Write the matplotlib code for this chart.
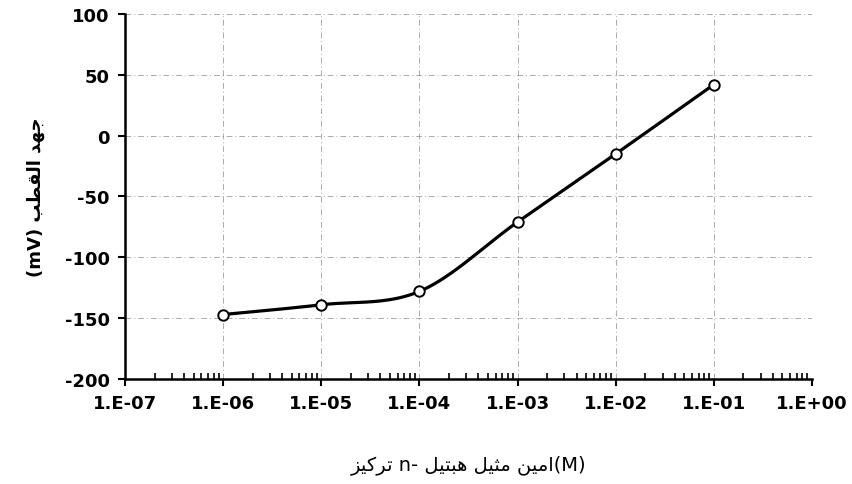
import numpy as np
import matplotlib
matplotlib.use('Agg')
import matplotlib.pyplot as plt
from matplotlib.ticker import FixedLocator, LogLocator, NullFormatter

# data
concentration = [1e-6, 1e-5, 1e-4, 1e-3, 1e-2, 1e-1]
potential = [-147, -139, -128, -71, -15, 42]
x_ticks = [1e-7, 1e-6, 1e-5, 1e-4, 1e-3, 1e-2, 1e-1, 1e0]
y_ticks = [-200, -150, -100, -50, 0, 50, 100]

# arabic presentation forms: (isolated, final, initial, medial)
FORMS = {
    'ا': (0xFE8D, 0xFE8E, None, None),
    'ب': (0xFE8F, 0xFE90, 0xFE91, 0xFE92),
    'ت': (0xFE95, 0xFE96, 0xFE97, 0xFE98),
    'ث': (0xFE99, 0xFE9A, 0xFE9B, 0xFE9C),
    'ج': (0xFE9D, 0xFE9E, 0xFE9F, 0xFEA0),
    'د': (0xFEA9, 0xFEAA, None, None),
    'ر': (0xFEAD, 0xFEAE, None, None),
    'ز': (0xFEAF, 0xFEB0, None, None),
    'ط': (0xFEC1, 0xFEC2, 0xFEC3, 0xFEC4),
    'ق': (0xFED5, 0xFED6, 0xFED7, 0xFED8),
    'ك': (0xFED9, 0xFEDA, 0xFEDB, 0xFEDC),
    'ل': (0xFEDD, 0xFEDE, 0xFEDF, 0xFEE0),
    'م': (0xFEE1, 0xFEE2, 0xFEE3, 0xFEE4),
    'ن': (0xFEE5, 0xFEE6, 0xFEE7, 0xFEE8),
    'ه': (0xFEE9, 0xFEEA, 0xFEEB, 0xFEEC),
    'ي': (0xFEF1, 0xFEF2, 0xFEF3, 0xFEF4),
}


def ar(word):
    # shape one arabic word and return it in visual (left to right) order
    out = []
    for i, c in enumerate(word):
        f = FORMS[c]
        prev = i > 0 and FORMS[word[i - 1]][2] is not None
        nxt = f[2] is not None and i + 1 < len(word)
        if prev and nxt:
            code = f[3]
        elif prev:
            code = f[1]
        elif nxt:
            code = f[2]
        else:
            code = f[0]
        out.append(chr(code))
    return ''.join(reversed(out))


xlabel = '{} n- {} {} {}(M)'.format(ar('تركيز'), ar('هبتيل'), ar('مثيل'), ar('امين'))
ylabel = '(mV) {} {}'.format(ar('القطب'), ar('جهد'))

# smoothed line like excel (catmull-rom in log x)
pts = np.column_stack([np.log10(concentration), potential]).astype(float)
pad = np.vstack([pts[0], pts, pts[-1]])
t = np.linspace(0, 1, 40)[:, None]
seg = []
for i in range(len(pts) - 1):
    p0, p1, p2, p3 = pad[i], pad[i + 1], pad[i + 2], pad[i + 3]
    c1 = p1 + (p2 - p0) / 6
    c2 = p2 - (p3 - p1) / 6
    seg.append((1 - t) ** 3 * p1 + 3 * (1 - t) ** 2 * t * c1 + 3 * (1 - t) * t ** 2 * c2 + t ** 3 * p2)
curve = np.vstack(seg)

plt.rcParams['font.family'] = ['DejaVu Sans']
plt.rcParams['axes.unicode_minus'] = False
fig = plt.figure(figsize=(8.52, 4.85), dpi=100)
ax = fig.add_axes([0.1467, 0.2165, 0.8063, 0.7526])

ax.set_xscale('log')
ax.set_xlim(1e-7, 1e0)
ax.set_ylim(-200, 100)

ax.grid(True, which='major', color='0.45', linewidth=0.7, linestyle=(0, (6, 3, 1, 3)), alpha=0.6)
ax.plot(10 ** curve[:, 0], curve[:, 1], color='black', linewidth=2.3, zorder=3)
ax.plot(concentration, potential, linestyle='none', marker='o', markersize=7.5,
        markerfacecolor='white', markeredgecolor='black', markeredgewidth=1.4, zorder=4)

ax.xaxis.set_major_locator(FixedLocator(x_ticks))
ax.xaxis.set_minor_locator(LogLocator(base=10, subs=np.arange(2, 10)))
ax.xaxis.set_minor_formatter(NullFormatter())
ax.set_xticklabels(['1.E{:+03d}'.format(int(round(np.log10(v)))) for v in x_ticks])
ax.set_yticks(y_ticks)

for s in ['top', 'right']:
    ax.spines[s].set_visible(False)
for s in ['left', 'bottom']:
    ax.spines[s].set_linewidth(1.8)

ax.tick_params(axis='both', which='major', direction='out', length=5, width=1.5,
               labelsize=13, pad=6)
ax.tick_params(axis='x', which='minor', direction='in', length=4, width=1.2)
for lab in ax.get_xticklabels() + ax.get_yticklabels():
    lab.set_fontweight('bold')

ax.set_xlabel(xlabel, fontsize=14, labelpad=30)
ax.set_ylabel(ylabel, fontsize=13, fontweight='bold', labelpad=14)

fig.savefig('out.png', dpi=100)
